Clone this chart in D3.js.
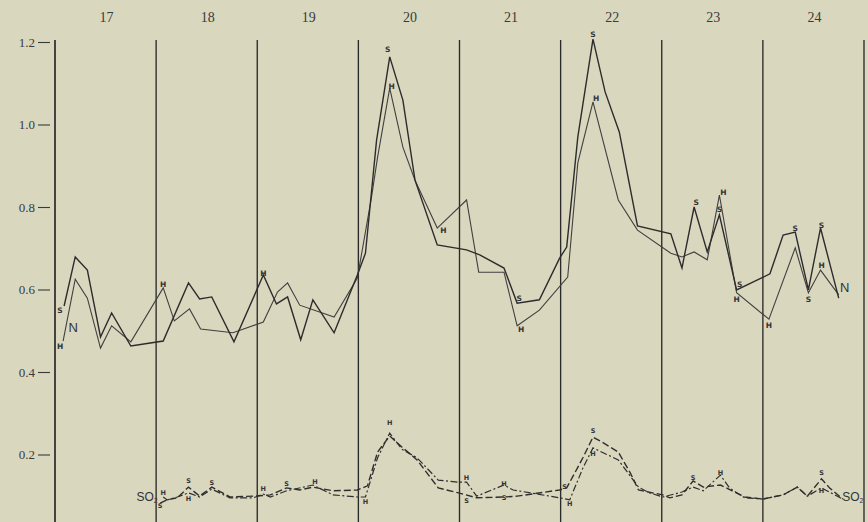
<!DOCTYPE html>
<html><head><meta charset="utf-8">
<script src="https://cdn.jsdelivr.net/npm/d3@7"></script>
<style>
html,body{margin:0;padding:0;background:#dad7bf;}
svg{display:block;}
</style></head>
<body>
<svg id="c" width="868" height="522"></svg>
<script>
// ---- data ----
const days = [17, 18, 19, 20, 21, 22, 23, 24];
const dayBounds = [17, 18, 19, 20, 21, 22, 23, 24, 25];
const yTicks = [0.2, 0.4, 0.6, 0.8, 1.0, 1.2];

const sDays = [17.09,17.20,17.32,17.45,17.56,17.75,18.07,18.32,18.43,18.55,18.77,19.06,19.19,19.30,19.43,19.55,19.76,19.99,20.07,20.18,20.31,20.44,20.56,20.78,21.07,21.20,21.44,21.57,21.79,21.99,22.06,22.17,22.32,22.44,22.58,22.76,23.09,23.20,23.32,23.45,23.57,23.74,24.07,24.20,24.32,24.45,24.57,24.75];
const sValues = [0.560,0.679,0.647,0.485,0.543,0.463,0.475,0.616,0.577,0.582,0.473,0.635,0.565,0.582,0.478,0.575,0.495,0.635,0.688,0.962,1.164,1.059,0.865,0.708,0.696,0.684,0.652,0.567,0.575,0.676,0.703,0.970,1.207,1.079,0.982,0.754,0.735,0.652,0.800,0.691,0.781,0.599,0.638,0.732,0.739,0.599,0.749,0.579];

const hDays = [17.08,17.20,17.32,17.45,17.56,17.75,18.07,18.18,18.33,18.44,18.76,19.06,19.20,19.30,19.42,19.76,19.99,20.13,20.19,20.31,20.44,20.56,20.78,21.07,21.19,21.44,21.57,21.79,22.07,22.17,22.32,22.57,22.76,23.09,23.20,23.32,23.45,23.57,23.74,24.06,24.32,24.45,24.57,24.75];
const hValues = [0.475,0.625,0.579,0.458,0.512,0.473,0.604,0.524,0.553,0.504,0.495,0.521,0.594,0.616,0.562,0.533,0.628,0.824,0.921,1.088,0.945,0.865,0.749,0.817,0.642,0.642,0.512,0.550,0.630,0.907,1.055,0.817,0.744,0.688,0.679,0.691,0.672,0.829,0.592,0.528,0.701,0.592,0.647,0.587];

const so2sDays = [18.04,18.11,18.21,18.32,18.43,18.55,18.73,18.96,19.13,19.29,19.42,19.55,19.75,19.99,20.09,20.19,20.31,20.43,20.58,20.79,20.99,21.17,21.44,21.57,21.99,22.06,22.22,22.32,22.41,22.57,22.69,22.77,23.01,23.08,23.20,23.31,23.41,23.58,23.82,24.00,24.20,24.34,24.44,24.58,24.66,24.79];
const so2sValues = [0.082,0.090,0.095,0.121,0.099,0.121,0.097,0.099,0.102,0.119,0.114,0.121,0.112,0.114,0.124,0.206,0.245,0.218,0.187,0.119,0.107,0.095,0.097,0.099,0.114,0.119,0.192,0.242,0.230,0.206,0.155,0.114,0.102,0.095,0.102,0.136,0.121,0.126,0.097,0.092,0.102,0.121,0.099,0.141,0.119,0.092];

const so2hDays = [18.07,18.11,18.21,18.32,18.43,18.55,18.73,18.96,19.06,19.13,19.29,19.55,19.75,19.99,20.07,20.19,20.31,20.43,20.58,20.79,20.99,21.07,21.17,21.44,21.53,21.99,22.09,22.22,22.32,22.57,22.77,22.88,23.01,23.20,23.31,23.41,23.58,23.67,23.82,24.00,24.20,24.34,24.44,24.58,24.79];
const so2hValues = [0.097,0.090,0.097,0.107,0.097,0.116,0.095,0.095,0.104,0.097,0.112,0.126,0.102,0.097,0.097,0.192,0.252,0.213,0.192,0.138,0.133,0.133,0.099,0.126,0.114,0.095,0.090,0.167,0.216,0.187,0.121,0.107,0.097,0.109,0.121,0.112,0.150,0.119,0.095,0.092,0.102,0.121,0.099,0.119,0.092];

// annotation letters: [text, day, value]
const curveLabels = [
  ["S",17.05,0.550],["H",17.05,0.463],["H",18.07,0.613],["H",19.06,0.640],
  ["S",20.29,1.181],["H",20.33,1.093],["H",20.84,0.742],["S",21.59,0.577],["H",21.61,0.504],
  ["S",22.32,1.219],["H",22.35,1.062],["S",23.34,0.810],["H",23.61,0.836],["S",23.57,0.793],
  ["S",23.77,0.611],["H",23.74,0.575],["H",24.06,0.512],["S",24.32,0.749],["S",24.45,0.575],
  ["S",24.58,0.756],["H",24.58,0.657]
];
const nLabels = [["N",17.18,0.507],["N",24.81,0.606]];
const so2Labels = [
  ["H",18.07,0.107],["S",18.04,0.075],["S",18.32,0.136],["H",18.32,0.092],["S",18.55,0.131],
  ["H",19.06,0.116],["S",19.29,0.128],["H",19.57,0.133],["H",20.07,0.085],["H",20.31,0.276],
  ["H",21.07,0.143],["S",21.07,0.087],["H",21.44,0.128],["S",21.44,0.095],["S",22.04,0.121],
  ["H",22.09,0.080],["S",22.32,0.257],["H",22.32,0.201],["S",23.31,0.143],["H",23.58,0.155],
  ["S",24.58,0.155],["H",24.58,0.112]
];
const so2Names = [["SO",17.91,0.097],["SO",24.89,0.097]];

// ---- drawing ----
const W = 868, H = 522;
const svg = d3.select("#c");
const x = d3.scaleLinear().domain([17, 25]).range([55, 864]);
const y = d3.scaleLinear().domain([0, 1.2]).range([537, 42]);
const ink = "#2a2a2a";
const serif = "'Liberation Serif','DejaVu Serif',serif";

// day boundaries
svg.append("g").selectAll("line").data(dayBounds).join("line")
  .attr("x1", d => x(d)).attr("x2", d => x(d))
  .attr("y1", y(1.205)).attr("y2", H)
  .attr("stroke", ink).attr("stroke-width", (d,i) => i === 0 ? 1.7 : 1.35);

// day labels
svg.append("g").selectAll("text").data(days).join("text")
  .attr("x", d => x(d + 0.51)).attr("y", 22)
  .attr("text-anchor", "middle")
  .attr("font-family", serif).attr("font-size", 14).attr("fill", "#3a3a3a")
  .text(d => d);

// y axis
const yAxis = d3.axisLeft(y).tickValues(yTicks).tickFormat(d3.format(".1f"))
  .tickSize(12).tickPadding(3);
const ga = svg.append("g").attr("transform", "translate(50,0)").call(yAxis);
ga.select(".domain").remove();
ga.selectAll(".tick line").attr("stroke", "#3a3a3a").attr("stroke-width", 1.1);
ga.selectAll(".tick text").attr("font-family", serif).attr("font-size", 13).attr("fill", "#3a3a3a");

const line = d3.line().x(d => x(d[0])).y(d => y(d[1]));
const zip = (a, b) => a.map((d, i) => [d, b[i]]);

svg.append("path").datum(zip(hDays, hValues)).attr("d", line)
  .attr("fill", "none").attr("stroke", "#404040").attr("stroke-width", 1.1);
svg.append("path").datum(zip(sDays, sValues)).attr("d", line)
  .attr("fill", "none").attr("stroke", "#2c2c2c").attr("stroke-width", 1.4);

svg.append("path").datum(zip(so2sDays, so2sValues)).attr("d", line)
  .attr("fill", "none").attr("stroke", "#2e2e2e").attr("stroke-width", 1.4)
  .attr("stroke-dasharray", "7,3");
svg.append("path").datum(zip(so2hDays, so2hValues)).attr("d", line)
  .attr("fill", "none").attr("stroke", "#2e2e2e").attr("stroke-width", 1.2)
  .attr("stroke-dasharray", "7,2.5,2,2.5");

// letters
function letters(data, size, family, weight) {
  svg.append("g").selectAll("text").data(data).join("text")
    .attr("x", d => x(d[1])).attr("y", d => y(d[2]))
    .attr("text-anchor", "middle").attr("dominant-baseline", "central")
    .attr("font-family", family).attr("font-size", size).attr("font-weight", weight)
    .attr("fill", "#333").text(d => d[0]);
}
letters(curveLabels, 7.5, "'DejaVu Sans',sans-serif", "bold");
letters(so2Labels, 6.5, "'DejaVu Sans',sans-serif", "bold");
letters(nLabels, 13, "'Liberation Sans',sans-serif", "normal");

const so = svg.append("g").selectAll("text").data(so2Names).join("text")
  .attr("x", d => x(d[1])).attr("y", d => y(d[2]))
  .attr("text-anchor", "middle").attr("dominant-baseline", "central")
  .attr("font-family", "'Liberation Sans',sans-serif").attr("font-size", 12)
  .attr("fill", "#333");
so.append("tspan").text(d => d[0]);
so.append("tspan").attr("font-size", 7).attr("dy", 3).text("2");
</script>
</body></html>
